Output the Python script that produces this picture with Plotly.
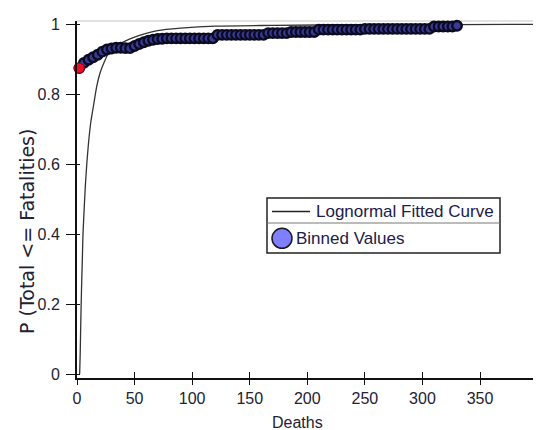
import plotly.graph_objects as go

# ---- data ----
bin_x = [2, 6, 10, 14, 18, 22, 26, 30, 34, 38, 42, 46, 50, 54, 58, 62, 66, 70, 74, 78,
         82, 86, 90, 94, 98, 102, 106, 110, 114, 118,
         122, 126, 130, 134, 138, 142, 146, 150, 154, 158, 162,
         166, 170, 174, 178, 182,
         186, 190, 194, 198, 202, 206,
         210, 214, 218, 222, 226, 230, 234, 238, 242, 246,
         250, 254, 258, 262, 266, 270, 274, 278, 282, 286, 290, 294, 298, 302, 306,
         310, 314, 318, 322, 326, 330]
bin_p = [0.874, 0.889, 0.898, 0.905, 0.912, 0.921, 0.927, 0.930, 0.932, 0.932, 0.931, 0.931,
         0.937, 0.943, 0.948, 0.952, 0.955, 0.957, 0.958, 0.959,
         0.959, 0.959, 0.959, 0.959, 0.959, 0.959, 0.959, 0.959, 0.959, 0.959,
         0.969, 0.969, 0.969, 0.969, 0.969, 0.969, 0.969, 0.969, 0.969, 0.969, 0.969,
         0.974, 0.974, 0.974, 0.974, 0.974,
         0.977, 0.977, 0.977, 0.977, 0.977, 0.977,
         0.984, 0.984, 0.984, 0.984, 0.984, 0.984, 0.984, 0.984, 0.984, 0.984,
         0.986, 0.986, 0.986, 0.986, 0.986, 0.986, 0.986, 0.986, 0.986, 0.986, 0.986, 0.986,
         0.986, 0.986, 0.986,
         0.993, 0.993, 0.993, 0.993, 0.993, 0.995]

curve_x = [2.3, 2.8, 3.3, 3.9, 4.5, 5.2, 6.2, 7.3, 8.5, 10, 12, 14.5, 17, 20, 23.5, 27,
           32, 38, 45, 55, 70, 90, 120, 170, 250, 330, 396]
curve_p = [0.0, 0.06, 0.15, 0.24, 0.31, 0.40, 0.47, 0.54, 0.60, 0.66, 0.72, 0.77, 0.82,
           0.86, 0.89, 0.915, 0.933, 0.945, 0.956, 0.968, 0.981, 0.988, 0.994, 0.996,
           0.998, 0.9985, 0.999]

x_ticks = [0, 50, 100, 150, 200, 250, 300, 350]
y_ticks = [0, 0.2, 0.4, 0.6, 0.8, 1]
y_tick_text = ["0", "0.2", "0.4", "0.6", "0.8", "1"]
legend_labels = ["Lognormal Fitted Curve", "Binned Values"]
x_title = "Deaths"
y_title = "P (Total <= Fatalities)"

# ---- layout geometry (pixels) ----
W, H = 539, 430
L, R, T, B = 77, 6, 21, 52
PW = W - L - R
PH = H - T - B
XR = [0, 396]
YR = [-0.0114, 1.0086]


def px(x):
    return (x - L) / PW


def py(y):
    return (H - B - y) / PH


FONT = "Liberation Sans, Arial, sans-serif"
TXT = "#222233"

fig = go.Figure()

fig.add_trace(go.Scatter(
    x=curve_x, y=curve_p, mode="lines",
    line=dict(color="#333333", width=1.3, shape="spline", smoothing=0.6),
    showlegend=False, hoverinfo="skip"))

fig.add_trace(go.Scatter(
    x=bin_x, y=bin_p, mode="markers",
    marker=dict(size=9.5, color="#3a3a96", line=dict(color="#0b0b22", width=2.4)),
    showlegend=False, cliponaxis=False))

fig.add_trace(go.Scatter(
    x=bin_x[:1], y=bin_p[:1], mode="markers",
    marker=dict(size=10, color="#e8102a", line=dict(color="#a00018", width=1)),
    showlegend=False, cliponaxis=False))

# invisible trace for the overlay axes (inside half of the cross ticks)
fig.add_trace(go.Scatter(x=[0], y=[0], xaxis="x2", yaxis="y2", mode="markers",
                         marker=dict(opacity=0), showlegend=False, hoverinfo="skip"))

fig.update_layout(
    width=W, height=H, autosize=False,
    margin=dict(l=L, r=R, t=T, b=B, pad=0),
    paper_bgcolor="white", plot_bgcolor="white",
    font=dict(family=FONT, size=16, color=TXT),
    xaxis=dict(range=XR, tickvals=x_ticks, ticks="outside", ticklen=5, tickwidth=1.3,
               tickcolor="#111", showline=True, linecolor="#111", linewidth=1.5,
               showgrid=False, zeroline=False, tickfont=dict(size=16, color=TXT)),
    yaxis=dict(range=YR, tickvals=y_ticks, ticktext=y_tick_text, ticks="outside",
               ticklen=9, tickwidth=1.3, tickcolor="#111", showline=True,
               linecolor="#111", linewidth=2, showgrid=False, zeroline=False,
               tickfont=dict(size=16, color=TXT), ticklabelstandoff=3),
    xaxis2=dict(range=XR, overlaying="x", anchor="y2", side="bottom", tickvals=x_ticks,
                ticks="inside", ticklen=6, tickwidth=1.3, tickcolor="#111",
                showticklabels=False, showline=False, showgrid=False, zeroline=False),
    yaxis2=dict(range=YR, overlaying="y", anchor="x2", side="left", tickvals=y_ticks,
                ticks="inside", ticklen=3, tickwidth=1.3, tickcolor="#111",
                showticklabels=False, showline=False, showgrid=False, zeroline=False),
)

shapes = [
    # light top border
    dict(type="line", xref="paper", yref="paper", x0=0, x1=1, y0=1, y1=1,
         line=dict(color="#d9d9d9", width=1.5), layer="below"),
    # legend box
    dict(type="rect", xref="paper", yref="paper", x0=px(267), x1=px(500),
         y0=py(253), y1=py(198), line=dict(color="#222", width=1.5),
         fillcolor="white", layer="above"),
    dict(type="line", xref="paper", yref="paper", x0=px(267), x1=px(500),
         y0=py(223), y1=py(223), line=dict(color="#777", width=1), layer="above"),
    dict(type="line", xref="paper", yref="paper", x0=px(272), x1=px(310),
         y0=py(211.5), y1=py(211.5), line=dict(color="#222", width=1.5), layer="above"),
    dict(type="circle", xref="paper", yref="paper", x0=px(272), x1=px(292),
         y0=py(248.3), y1=py(228.3), fillcolor="#7f7fff",
         line=dict(color="#1a1a1a", width=1.5), layer="above"),
]
fig.update_layout(shapes=shapes)

annotations = [
    dict(text=legend_labels[0], xref="paper", yref="paper", x=px(314), y=py(211),
         xanchor="left", yanchor="middle", showarrow=False,
         font=dict(family=FONT, size=17, color="#20204a")),
    dict(text=legend_labels[1], xref="paper", yref="paper", x=px(294), y=py(238.5),
         xanchor="left", yanchor="middle", showarrow=False,
         font=dict(family=FONT, size=17, color="#20204a")),
    dict(text=x_title, xref="paper", yref="paper", x=px(297.5), y=py(422),
         xanchor="center", yanchor="middle", showarrow=False,
         font=dict(family=FONT, size=16, color=TXT)),
    dict(text=y_title, xref="paper", yref="paper", x=px(27), y=py(232),
         xanchor="center", yanchor="middle", showarrow=False, textangle=-90,
         font=dict(family="DejaVu Sans", size=19, color=TXT)),
]
fig.update_layout(annotations=annotations)

fig.write_html("out.html")
